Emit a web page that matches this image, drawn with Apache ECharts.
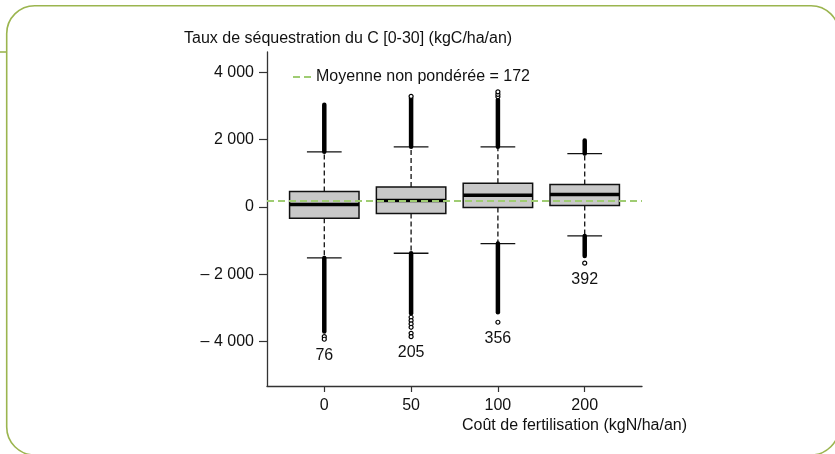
<!DOCTYPE html>
<html>
<head>
<meta charset="utf-8">
<script src="https://cdn.jsdelivr.net/npm/echarts@6/dist/echarts.min.js"></script>
<style>
  html, body { margin: 0; padding: 0; background: #ffffff; }
  #chart { width: 835px; height: 454px; }
</style>
</head>
<body>
<div id="chart"></div>
<script>
// ---- Data ----
const categories   = ['0', '50', '100', '200'];
const whiskerLow   = [-1516, -1377, -1090, -862];
const q1           = [-336, -198, -20, 39];
const median       = [70, 188, 347, 366];
const q3           = [455, 594, 704, 663];
const whiskerHigh  = [1634, 1783, 1783, 1584];
// dense runs of outliers (drawn as a continuous column)
const denseHigh    = [3030, 3230, 3180, 1970];
const denseLow     = [-3705, -3160, -3130, -1456];
// isolated outliers
const sparseOutliers = [
  [-3855, -3932],
  [3280, -3278, -3378, -3477, -3576, -3755, -3855],
  [3270, 3340, 3418, -3427],
  [-1673]
];
const counts    = [76, 205, 356, 392];
const meanValue = 172;
const yTicks    = [-4000, -2000, 0, 2000, 4000];
const yTitle    = 'Taux de séquestration du C [0-30] (kgC/ha/an)';
const xTitle    = 'Coût de fertilisation (kgN/ha/an)';
const meanName  = 'Moyenne non pondérée = ' + meanValue;

// ---- Build series data ----
const xPos = categories.map((c, i) => i + 1);
const boxData = xPos.map((x, i) => [x, whiskerLow[i], q1[i], median[i], q3[i], whiskerHigh[i]]);
const denseData = [];
xPos.forEach((x, i) => {
  denseData.push([x, whiskerHigh[i], denseHigh[i]]);
  denseData.push([x, whiskerLow[i], denseLow[i]]);
});
const sparseData = [];
xPos.forEach((x, i) => sparseOutliers[i].forEach(v => sparseData.push([x, v])));
const countData = xPos.map((x, i) => [x, Math.min(denseLow[i], ...sparseOutliers[i]), counts[i]]);

const FONT = '"Liberation Sans", Arial, Helvetica, sans-serif';
const INK = '#111111';
const GREEN = '#9fcc72';

function fmtY(v) {
  const s = Math.abs(v).toString().replace(/\B(?=(\d{3})+(?!\d))/g, ' ');
  return (v < 0 ? '– ' : '') + s;
}

const chart = echarts.init(document.getElementById('chart'), null, { renderer: 'canvas' });

chart.setOption({
  animation: false,
  backgroundColor: '#ffffff',
  textStyle: { fontFamily: FONT, color: INK },
  title: {
    text: yTitle,
    left: 179, top: 26,
    textStyle: { fontFamily: FONT, fontSize: 16, fontWeight: 'normal', color: INK }
  },
  legend: {
    left: 292, top: 69,
    padding: 0,
    itemWidth: 18, itemHeight: 14,
    itemGap: 5,
    data: [meanName],
    itemStyle: { opacity: 0 },
    textStyle: { fontFamily: FONT, fontSize: 16, color: INK }
  },
  graphic: [
    {
      type: 'rect', silent: true, z: -10,
      shape: { x: 6.7, y: 5.7, width: 832.3, height: 449.3, r: 28 },
      style: { fill: 'none', stroke: '#9bb54f', lineWidth: 1.6 }
    },
    {
      type: 'line', silent: true, z: -10,
      shape: { x1: 0, y1: 52, x2: 7, y2: 52 },
      style: { stroke: '#9bb54f', lineWidth: 1.6 }
    }
  ],
  grid: { left: 267, right: 193, top: 52, bottom: 68, containLabel: false },
  xAxis: {
    type: 'value',
    min: 0.34, max: 4.66,
    name: xTitle,
    nameLocation: 'end',
    nameGap: 45,
    nameTextStyle: { fontFamily: FONT, fontSize: 16, color: INK, align: 'right', verticalAlign: 'top', padding: [32, 0, 0, 0] },
    splitLine: { show: false },
    axisLine: { show: true, onZero: false, lineStyle: { color: '#333', width: 1.3 } },
    axisTick: { show: true, customValues: xPos, length: 6, lineStyle: { color: '#333', width: 1.2 } },
    axisLabel: {
      customValues: xPos, margin: 12, fontSize: 16, color: INK, fontFamily: FONT,
      formatter: v => categories[Math.round(v) - 1]
    }
  },
  yAxis: {
    type: 'value',
    min: -5320, max: 4600,
    splitLine: { show: false },
    axisLine: { show: true, onZero: false, lineStyle: { color: '#333', width: 1.3 } },
    axisTick: { show: true, customValues: yTicks, length: 8, lineStyle: { color: '#333', width: 1.2 } },
    axisLabel: { customValues: yTicks, margin: 13, fontSize: 16, color: INK, fontFamily: FONT, formatter: fmtY }
  },
  series: [
    {
      name: 'box',
      type: 'custom',
      z: 3,
      data: boxData,
      renderItem: function (params, api) {
        const x = api.value(0);
        const pLow = api.coord([x, api.value(1)]);
        const pQ1 = api.coord([x, api.value(2)]);
        const pMed = api.coord([x, api.value(3)]);
        const pQ3 = api.coord([x, api.value(4)]);
        const pHigh = api.coord([x, api.value(5)]);
        const unit = api.size([1, 0])[0];
        const half = unit * 0.8 / 2;
        const capHalf = half / 2;
        const cx = pMed[0];
        const dash = { stroke: INK, lineWidth: 1.3, lineDash: [5, 3] };
        const solid = { stroke: INK, lineWidth: 1.3 };
        return {
          type: 'group',
          children: [
            { type: 'line', shape: { x1: cx, y1: pQ3[1], x2: cx, y2: pHigh[1] }, style: dash },
            { type: 'line', shape: { x1: cx, y1: pQ1[1], x2: cx, y2: pLow[1] }, style: dash },
            { type: 'line', shape: { x1: cx - capHalf, y1: pHigh[1], x2: cx + capHalf, y2: pHigh[1] }, style: solid },
            { type: 'line', shape: { x1: cx - capHalf, y1: pLow[1], x2: cx + capHalf, y2: pLow[1] }, style: solid },
            { type: 'rect', shape: { x: cx - half, y: pQ3[1], width: half * 2, height: pQ1[1] - pQ3[1] },
              style: { fill: '#c8c8c8', stroke: INK, lineWidth: 1.5 } },
            { type: 'line', shape: { x1: cx - half, y1: pMed[1], x2: cx + half, y2: pMed[1] },
              style: { stroke: '#000', lineWidth: 3.5 } }
          ]
        };
      }
    },
    {
      name: 'dense outliers',
      type: 'custom',
      z: 4,
      data: denseData,
      renderItem: function (params, api) {
        const x = api.value(0);
        const a = api.coord([x, api.value(1)]);
        const b = api.coord([x, api.value(2)]);
        return {
          type: 'line',
          shape: { x1: a[0], y1: a[1], x2: b[0], y2: b[1] },
          style: { stroke: '#000', lineWidth: 4.5, lineCap: 'round' }
        };
      }
    },
    {
      name: 'outliers',
      type: 'scatter',
      z: 5,
      symbol: 'circle',
      symbolSize: 4,
      itemStyle: { color: '#ffffff', borderColor: '#000000', borderWidth: 1.2, opacity: 1 },
      data: sparseData
    },
    {
      name: 'counts',
      type: 'scatter',
      z: 5,
      symbolSize: 0,
      itemStyle: { opacity: 1 },
      data: countData,
      label: {
        show: true, position: 'bottom', distance: 8,
        fontSize: 16, color: INK, fontFamily: FONT,
        formatter: p => String(p.value[2])
      }
    },
    {
      name: meanName,
      type: 'line',
      z: 10,
      symbol: 'none',
      data: [],
      itemStyle: { color: GREEN, opacity: 0 },
      lineStyle: { color: GREEN, width: 1.8, type: [7, 4] },
      markLine: {
        silent: true,
        symbol: 'none',
        label: { show: false },
        z: 10,
        lineStyle: { color: GREEN, width: 1.8, type: [7, 4], opacity: 1 },
        data: [{ yAxis: meanValue }]
      }
    }
  ]
});
</script>
</body>
</html>
